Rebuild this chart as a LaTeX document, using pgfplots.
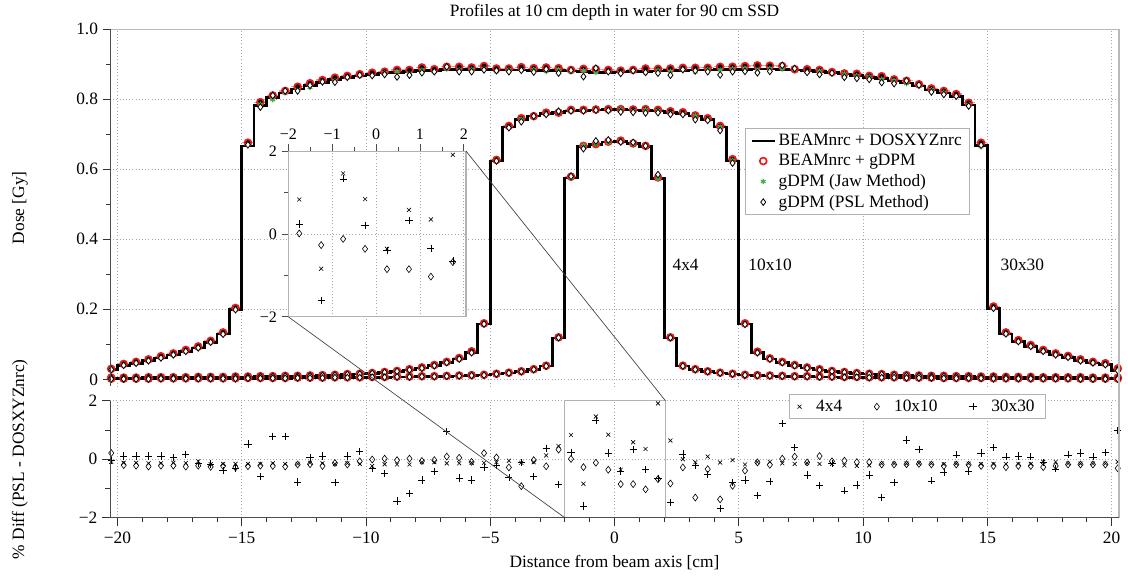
\documentclass[border=0pt]{standalone}
\usepackage{pgfplots}
\pgfplotsset{compat=1.18}
\usepackage{pgfplotstable}
\usepackage{fontspec}
\setmainfont{Liberation Serif}
\definecolor{cred}{RGB}{240,25,25}
\definecolor{cgreen}{RGB}{70,175,80}
\definecolor{cpink}{RGB}{250,150,150}

\pgfplotstableread{
x D C J P
-20.25 0.028 0.030 0.029 0.028
-19.75 0.040 0.044 0.041 0.040
-19.25 0.046 0.050 0.047 0.046
-18.75 0.053 0.057 0.054 0.053
-18.25 0.061 0.066 0.062 0.061
-17.75 0.070 0.074 0.070 0.070
-17.25 0.080 0.084 0.081 0.080
-16.75 0.090 0.094 0.091 0.090
-16.25 0.106 0.110 0.106 0.106
-15.75 0.130 0.134 0.130 0.129
-15.25 0.200 0.204 0.201 0.199
-14.75 0.667 0.676 0.671 0.670
-14.25 0.783 0.792 0.786 0.778
-13.75 0.805 0.811 0.799 0.811
-13.25 0.818 0.824 0.820 0.824
-12.75 0.830 0.836 0.828 0.824
-12.25 0.840 0.846 0.834 0.840
-11.75 0.849 0.855 0.851 0.850
-11.25 0.856 0.862 0.854 0.849
-10.75 0.862 0.867 0.863 0.863
-10.25 0.867 0.872 0.869 0.869
-9.75 0.871 0.876 0.868 0.868
-9.25 0.875 0.879 0.876 0.871
-8.75 0.877 0.884 0.880 0.864
-8.25 0.879 0.884 0.874 0.869
-7.75 0.882 0.891 0.884 0.876
-7.25 0.883 0.886 0.879 0.879
-6.75 0.885 0.893 0.887 0.893
-6.25 0.885 0.893 0.884 0.879
-5.75 0.885 0.891 0.886 0.879
-5.25 0.886 0.895 0.888 0.884
-4.75 0.884 0.888 0.879 0.882
-4.25 0.884 0.888 0.885 0.879
-3.75 0.884 0.892 0.883 0.883
-3.25 0.883 0.889 0.885 0.878
-2.75 0.883 0.891 0.880 0.886
-2.25 0.882 0.889 0.886 0.875
-1.75 0.881 0.884 0.879 0.883
-1.25 0.879 0.887 0.882 0.865
-0.75 0.877 0.886 0.876 0.889
-0.25 0.877 0.884 0.879 0.879
0.25 0.878 0.882 0.877 0.874
0.75 0.879 0.884 0.881 0.882
1.25 0.880 0.888 0.876 0.877
1.75 0.881 0.887 0.883 0.875
2.25 0.882 0.888 0.880 0.869
2.75 0.883 0.890 0.885 0.885
3.25 0.884 0.890 0.878 0.882
3.75 0.884 0.890 0.886 0.879
4.25 0.885 0.893 0.884 0.870
4.75 0.886 0.893 0.887 0.879
5.25 0.886 0.895 0.889 0.880
5.75 0.887 0.897 0.883 0.876
6.25 0.887 0.896 0.888 0.880
6.75 0.886 0.895 0.887 0.897
7.25 0.884 0.886 0.886 0.888
7.75 0.882 0.886 0.877 0.877
8.25 0.879 0.884 0.881 0.871
8.75 0.876 0.878 0.877 0.875
9.25 0.872 0.874 0.873 0.863
9.75 0.868 0.873 0.867 0.860
10.25 0.862 0.867 0.864 0.857
10.75 0.859 0.866 0.857 0.848
11.25 0.852 0.857 0.854 0.845
11.75 0.847 0.853 0.845 0.853
12.25 0.838 0.843 0.839 0.841
12.75 0.827 0.831 0.828 0.821
13.25 0.818 0.824 0.820 0.814
13.75 0.808 0.815 0.809 0.809
14.25 0.784 0.790 0.786 0.781
14.75 0.668 0.676 0.665 0.669
15.25 0.202 0.208 0.203 0.203
15.75 0.130 0.134 0.131 0.130
16.25 0.108 0.112 0.109 0.108
16.75 0.094 0.098 0.095 0.094
17.25 0.080 0.084 0.081 0.080
17.75 0.070 0.074 0.071 0.070
18.25 0.063 0.067 0.063 0.063
18.75 0.053 0.057 0.054 0.053
19.25 0.047 0.050 0.047 0.047
19.75 0.042 0.046 0.042 0.042
20.25 0.025 0.031 0.027 0.025
}\tthirty

\pgfplotstableread{
x D C J P
-20.25 0.004 0.005 0.004 0.004
-19.75 0.004 0.005 0.004 0.004
-19.25 0.004 0.005 0.004 0.004
-18.75 0.005 0.006 0.005 0.005
-18.25 0.005 0.006 0.005 0.005
-17.75 0.005 0.006 0.005 0.005
-17.25 0.005 0.006 0.005 0.005
-16.75 0.006 0.007 0.006 0.006
-16.25 0.006 0.007 0.006 0.006
-15.75 0.006 0.007 0.006 0.006
-15.25 0.007 0.008 0.007 0.007
-14.75 0.007 0.008 0.007 0.007
-14.25 0.008 0.009 0.008 0.008
-13.75 0.008 0.009 0.008 0.008
-13.25 0.009 0.010 0.009 0.009
-12.75 0.009 0.010 0.009 0.009
-12.25 0.010 0.011 0.010 0.010
-11.75 0.011 0.012 0.011 0.011
-11.25 0.012 0.013 0.012 0.012
-10.75 0.014 0.015 0.014 0.014
-10.25 0.015 0.016 0.015 0.015
-9.75 0.017 0.018 0.017 0.017
-9.25 0.020 0.021 0.020 0.020
-8.75 0.023 0.024 0.023 0.023
-8.25 0.027 0.029 0.027 0.027
-7.75 0.032 0.034 0.032 0.032
-7.25 0.039 0.041 0.039 0.039
-6.75 0.048 0.050 0.048 0.048
-6.25 0.058 0.061 0.058 0.058
-5.75 0.076 0.080 0.076 0.076
-5.25 0.158 0.160 0.158 0.158
-4.75 0.624 0.627 0.625 0.624
-4.25 0.721 0.724 0.721 0.719
-3.75 0.743 0.746 0.744 0.736
-3.25 0.752 0.752 0.750 0.752
-2.75 0.759 0.762 0.760 0.757
-2.25 0.763 0.762 0.764 0.766
-1.75 0.767 0.770 0.766 0.767
-1.25 0.769 0.770 0.768 0.767
-0.75 0.770 0.771 0.771 0.769
-0.25 0.771 0.772 0.770 0.768
0.25 0.771 0.772 0.772 0.764
0.75 0.770 0.771 0.768 0.763
1.25 0.769 0.772 0.770 0.761
1.75 0.767 0.770 0.768 0.762
2.25 0.763 0.766 0.761 0.757
2.75 0.759 0.763 0.760 0.757
3.25 0.752 0.754 0.753 0.742
3.75 0.743 0.746 0.744 0.740
4.25 0.721 0.724 0.722 0.711
4.75 0.624 0.629 0.626 0.618
5.25 0.158 0.160 0.158 0.157
5.75 0.076 0.079 0.076 0.076
6.25 0.058 0.060 0.058 0.058
6.75 0.048 0.050 0.048 0.048
7.25 0.039 0.041 0.039 0.039
7.75 0.032 0.034 0.032 0.032
8.25 0.027 0.029 0.027 0.027
8.75 0.023 0.024 0.023 0.023
9.25 0.020 0.021 0.020 0.020
9.75 0.017 0.018 0.017 0.017
10.25 0.015 0.016 0.015 0.015
10.75 0.014 0.015 0.014 0.014
11.25 0.012 0.013 0.012 0.012
11.75 0.011 0.012 0.011 0.011
12.25 0.010 0.011 0.010 0.010
12.75 0.009 0.010 0.009 0.009
13.25 0.009 0.010 0.009 0.009
13.75 0.008 0.009 0.008 0.008
14.25 0.008 0.009 0.008 0.008
14.75 0.007 0.008 0.007 0.007
15.25 0.007 0.008 0.007 0.007
15.75 0.006 0.007 0.006 0.006
16.25 0.006 0.007 0.006 0.006
16.75 0.006 0.007 0.006 0.006
17.25 0.005 0.006 0.005 0.005
17.75 0.005 0.006 0.005 0.005
18.25 0.005 0.006 0.005 0.005
18.75 0.005 0.006 0.005 0.005
19.25 0.004 0.005 0.004 0.004
19.75 0.004 0.005 0.004 0.004
20.25 0.004 0.005 0.004 0.004
}\tten

\pgfplotstableread{
x D C J P
-20.25 0.001 0.002 0.001 0.001
-19.75 0.001 0.002 0.001 0.001
-19.25 0.001 0.002 0.001 0.001
-18.75 0.001 0.002 0.001 0.001
-18.25 0.002 0.003 0.002 0.002
-17.75 0.002 0.003 0.002 0.002
-17.25 0.002 0.003 0.002 0.002
-16.75 0.002 0.003 0.002 0.002
-16.25 0.002 0.003 0.002 0.002
-15.75 0.002 0.003 0.002 0.002
-15.25 0.002 0.003 0.002 0.002
-14.75 0.003 0.004 0.003 0.003
-14.25 0.003 0.004 0.003 0.003
-13.75 0.003 0.004 0.003 0.003
-13.25 0.003 0.004 0.003 0.003
-12.75 0.004 0.005 0.004 0.004
-12.25 0.004 0.005 0.004 0.004
-11.75 0.004 0.005 0.004 0.004
-11.25 0.005 0.006 0.005 0.005
-10.75 0.005 0.006 0.005 0.005
-10.25 0.005 0.006 0.005 0.005
-9.75 0.006 0.007 0.006 0.006
-9.25 0.006 0.007 0.006 0.006
-8.75 0.007 0.008 0.007 0.007
-8.25 0.007 0.008 0.007 0.007
-7.75 0.008 0.009 0.008 0.008
-7.25 0.008 0.009 0.008 0.008
-6.75 0.009 0.010 0.009 0.009
-6.25 0.010 0.011 0.010 0.010
-5.75 0.011 0.012 0.011 0.011
-5.25 0.012 0.013 0.012 0.012
-4.75 0.015 0.016 0.015 0.015
-4.25 0.018 0.019 0.018 0.018
-3.75 0.022 0.023 0.022 0.022
-3.25 0.028 0.029 0.028 0.028
-2.75 0.038 0.039 0.038 0.038
-2.25 0.118 0.120 0.118 0.119
-1.75 0.575 0.579 0.576 0.580
-1.25 0.665 0.667 0.669 0.659
-0.75 0.671 0.672 0.672 0.681
-0.25 0.678 0.679 0.677 0.684
0.25 0.680 0.682 0.681 0.678
0.75 0.673 0.674 0.672 0.677
1.25 0.665 0.667 0.666 0.667
1.75 0.574 0.577 0.574 0.585
2.25 0.118 0.120 0.118 0.119
2.75 0.038 0.039 0.038 0.038
3.25 0.028 0.029 0.028 0.028
3.75 0.022 0.023 0.022 0.022
4.25 0.018 0.019 0.018 0.018
4.75 0.015 0.016 0.015 0.015
5.25 0.012 0.013 0.012 0.012
5.75 0.011 0.012 0.011 0.011
6.25 0.010 0.011 0.010 0.010
6.75 0.009 0.010 0.009 0.009
7.25 0.008 0.009 0.008 0.008
7.75 0.008 0.009 0.008 0.008
8.25 0.007 0.008 0.007 0.007
8.75 0.007 0.008 0.007 0.007
9.25 0.006 0.007 0.006 0.006
9.75 0.006 0.007 0.006 0.006
10.25 0.005 0.006 0.005 0.005
10.75 0.005 0.006 0.005 0.005
11.25 0.005 0.006 0.005 0.005
11.75 0.004 0.005 0.004 0.004
12.25 0.004 0.005 0.004 0.004
12.75 0.004 0.005 0.004 0.004
13.25 0.003 0.004 0.003 0.003
13.75 0.003 0.004 0.003 0.003
14.25 0.003 0.004 0.003 0.003
14.75 0.003 0.004 0.003 0.003
15.25 0.002 0.003 0.002 0.002
15.75 0.002 0.003 0.002 0.002
16.25 0.002 0.003 0.002 0.002
16.75 0.002 0.003 0.002 0.002
17.25 0.002 0.003 0.002 0.002
17.75 0.002 0.003 0.002 0.002
18.25 0.002 0.003 0.002 0.002
18.75 0.001 0.002 0.001 0.001
19.25 0.001 0.002 0.001 0.001
19.75 0.001 0.002 0.001 0.001
20.25 0.001 0.002 0.001 0.001
}\tfour

\pgfplotstableread{
x d4 d10 d30
-20.25 -0.09 0.21 -0.05
-19.75 -0.12 -0.20 0.11
-19.25 -0.12 -0.22 0.11
-18.75 -0.14 -0.25 0.11
-18.25 -0.14 -0.22 0.11
-17.75 -0.12 -0.22 0.06
-17.25 -0.13 -0.25 0.17
-16.75 -0.07 -0.22 -0.14
-16.25 -0.17 -0.26 -0.16
-15.75 -0.16 -0.23 -0.39
-15.25 -0.16 -0.28 -0.32
-14.75 -0.16 -0.24 0.52
-14.25 -0.16 -0.22 -0.59
-13.75 -0.14 -0.23 0.79
-13.25 -0.16 -0.25 0.79
-12.75 -0.16 -0.18 -0.78
-12.25 -0.12 -0.17 0.06
-11.75 -0.14 -0.23 0.11
-11.25 -0.16 -0.13 -0.80
-10.75 -0.14 -0.18 0.11
-10.25 -0.16 -0.07 0.26
-9.75 -0.23 -0.01 -0.32
-9.25 -0.17 0.02 -0.48
-8.75 -0.18 -0.03 -1.43
-8.25 -0.18 0.02 -1.16
-7.75 -0.10 -0.06 -0.71
-7.25 -0.10 -0.03 -0.42
-6.75 -0.14 0.09 0.94
-6.25 -0.14 0.05 -0.64
-5.75 -0.12 -0.09 -0.71
-5.25 -0.12 0.21 -0.28
-4.75 -0.10 0.06 -0.21
-4.25 -0.05 -0.28 -0.62
-3.75 -0.12 -0.92 -0.10
-3.25 -0.10 -0.03 -0.60
-2.75 0.13 -0.24 0.38
-2.25 0.45 0.33 -0.85
-1.75 0.83 0.01 0.24
-1.25 -0.84 -0.27 -1.60
-0.75 1.46 -0.12 1.33
-0.25 0.84 -0.36 0.21
0.25 -0.36 -0.85 -0.40
0.75 0.58 -0.85 0.33
1.25 0.35 -1.03 -0.35
1.75 1.91 -0.68 -0.65
2.25 0.64 -0.83 -1.48
2.75 0.00 -0.28 0.18
3.25 -0.10 -1.31 -0.22
3.75 0.09 -0.34 -0.52
4.25 -0.11 -1.37 -1.68
4.75 -0.03 -0.91 -0.79
5.25 -0.18 -0.39 -0.71
5.75 -0.10 -0.11 -1.23
6.25 -0.09 -0.19 -0.76
6.75 -0.14 0.02 1.23
7.25 -0.16 0.09 0.40
7.75 -0.13 -0.11 -0.54
8.25 -0.16 0.11 -0.90
8.75 -0.16 -0.07 -0.15
9.25 -0.21 -0.05 -1.08
9.75 -0.23 -0.10 -0.88
10.25 -0.21 -0.10 -0.54
10.75 -0.15 -0.18 -1.30
11.25 -0.15 -0.18 -0.79
11.75 -0.15 -0.17 0.66
12.25 -0.14 -0.16 0.34
12.75 -0.15 -0.18 -0.74
13.25 -0.17 -0.23 -0.44
13.75 -0.15 -0.18 0.15
14.25 -0.15 -0.19 -0.42
14.75 -0.16 -0.23 0.21
15.25 -0.16 -0.23 0.40
15.75 -0.16 -0.27 0.08
16.25 -0.16 -0.23 0.11
16.75 -0.16 -0.23 0.08
17.25 -0.09 -0.27 -0.12
17.75 -0.09 -0.23 -0.33
18.25 -0.15 -0.18 0.15
18.75 -0.15 -0.18 0.21
19.25 -0.15 -0.18 0.08
19.75 -0.15 -0.18 0.23
20.25 -0.09 -0.31 0.98
}\tdiff

\newcommand{\fs}{\fontsize{13}{15}\selectfont}
\newcommand{\fsi}{\fontsize{12}{14}\selectfont}

\begin{document}
\begin{tikzpicture}
\useasboundingbox (-82.5pt,22pt) rectangle (763.5pt,-409.3pt);
\pgfplotsset{
  lineS/.style={black, line width=2pt, const plot mark mid, forget plot},
  pinkS/.style={forget plot, only marks, mark=none, error bars/.cd, x dir=both, x fixed=0.25, error mark=none, error bar style={cpink, line width=0.9pt}},
  circS/.style={only marks, mark=o, cred, mark size=2.6pt, line width=1.25pt, forget plot},
  starS/.style={only marks, mark=asterisk, cgreen, mark size=2pt, line width=0.9pt, forget plot},
  diamS/.style={only marks, mark=diamond*, mark size=2.5pt, mark options={fill=white, draw=black, line width=0.6pt}, forget plot},
}
% ---------------- main profile axis
\begin{axis}[name=main, at={(0pt,0pt)}, anchor=north west,
  width=756.75pt, height=267.75pt, scale only axis,
  xmin=-20.3, xmax=20.3, ymin=-0.02, ymax=1.0,
  separate axis lines, x axis line style={draw=none}, y axis line style={draw=none},
  xtick={-20,-15,...,20}, xticklabels={}, major x tick style={draw=none},
  ytick={0,0.2,0.4,0.6,0.8,1.0}, yticklabels={0,0.2,0.4,0.6,0.8,1.0},
  minor ytick={0.1,0.3,0.5,0.7,0.9},
  ytick pos=left, tick align=outside, major tick length=5.5pt, minor tick length=3pt,
  tick style={black!80, line width=0.5pt},
  grid=major, grid style={dotted, gray!70, line width=0.5pt},
  tick label style={font=\fs},
  title={Profiles at 10 cm depth in water for 90 cm SSD},
  title style={at={(axis description cs:0.5,1.048)}, anchor=center, yshift=-6pt, font=\fs},
  ylabel={Dose [Gy]},
  ylabel style={at={(axis description cs:-0.0892,0.5)}, anchor=center, font=\fs},
  legend style={at={(axis description cs:0.629,0.7227)}, anchor=north west, draw=gray!60, line width=0.8pt, fill=white, font=\fs, inner xsep=4pt, inner ysep=2pt, row sep=1pt},
  legend cell align=left,
]
\addlegendimage{black, line width=2pt}
\addlegendentry{BEAMnrc + DOSXYZnrc}
\addlegendimage{only marks, mark=o, cred, mark size=2.6pt, line width=1.25pt}
\addlegendentry{BEAMnrc + gDPM}
\addlegendimage{only marks, mark=asterisk, cgreen, mark size=2pt, line width=0.9pt}
\addlegendentry{gDPM (Jaw Method)}
\addlegendimage{only marks, mark=diamond*, mark size=2.5pt, mark options={fill=white, draw=black, line width=0.6pt}}
\addlegendentry{gDPM (PSL Method)}

\addplot[pinkS] table[x=x, y=C] {\tthirty};
\addplot[pinkS] table[x=x, y=C] {\tten};
\addplot[pinkS] table[x=x, y=C] {\tfour};
\addplot[lineS] table[x=x, y=D] {\tthirty};
\addplot[lineS] table[x=x, y=D] {\tten};
\addplot[lineS] table[x=x, y=D] {\tfour};
\addplot[circS] table[x=x, y=C] {\tthirty};
\addplot[circS] table[x=x, y=C] {\tten};
\addplot[circS] table[x=x, y=C] {\tfour};
\addplot[starS] table[x=x, y=J] {\tthirty};
\addplot[starS] table[x=x, y=J] {\tten};
\addplot[starS] table[x=x, y=J] {\tfour};
\addplot[diamS] table[x=x, y=P] {\tthirty};
\addplot[diamS] table[x=x, y=P] {\tten};
\addplot[diamS] table[x=x, y=P] {\tfour};

\node[anchor=west, font=\fs] at (axis cs:2.15,0.327) {4x4};
\node[anchor=west, font=\fs] at (axis cs:5.2,0.327) {10x10};
\node[anchor=west, font=\fs] at (axis cs:15.35,0.327) {30x30};
\end{axis}

% ---------------- inset
\begin{axis}[name=inset, at={(133.7pt,-91.3pt)}, anchor=north west,
  width=133.3pt, height=124.3pt, scale only axis,
  xmin=-2, xmax=2.05, ymin=-2, ymax=2,
  axis background/.style={fill=white},
  axis line style={gray!60, line width=0.8pt},
  xtick={-2,-1,0,1,2}, xticklabels={−2,−1,0,1,2},
  minor xtick={-1.5,-0.5,0.5,1.5},
  ytick={-2,0,2}, yticklabels={−2,0,2}, minor ytick={-1,1},
  xtick pos=right, xticklabel pos=right, ytick pos=left,
  tick align=outside, major tick length=5pt, minor tick length=3pt,
  tick style={black!70, line width=0.5pt},
  grid=major, grid style={dotted, gray!70, line width=0.5pt},
  tick label style={font=\fsi},
]
\addplot[only marks, mark=x, black, mark size=2.1pt, line width=0.45pt, restrict x to domain=-2:2.05] table[x=x, y=d4] {\tdiff};
\addplot[only marks, mark=diamond, black, mark size=2.6pt, line width=0.45pt, restrict x to domain=-2:2.05] table[x=x, y=d10] {\tdiff};
\addplot[only marks, mark=+, black, mark size=2.7pt, line width=0.45pt, restrict x to domain=-2:2.05] table[x=x, y=d30] {\tdiff};
\coordinate (iNE) at (rel axis cs:1,1);
\coordinate (iSW) at (rel axis cs:0,0);
\end{axis}

% ---------------- difference axis
\begin{axis}[name=diff, at={(0pt,-278.55pt)}, anchor=north west,
  width=756.75pt, height=87.75pt, scale only axis,
  xmin=-20.3, xmax=20.3, ymin=-2, ymax=2,
  separate axis lines, x axis line style={draw=none}, y axis line style={draw=none},
  xtick={-20,-15,...,20}, xticklabels={−20,−15,−10,−5,0,5,10,15,20},
  minor xtick={-19,-18,...,19},
  ytick={-2,0,2}, yticklabels={−2,0,2}, minor ytick={-1,1},
  xtick pos=left, ytick pos=left,
  tick align=outside, major tick length=6pt, minor tick length=3.5pt,
  tick style={black!80, line width=0.5pt},
  grid=major, grid style={dotted, gray!70, line width=0.5pt},
  tick label style={font=\fs},
  xticklabel style={yshift=-1.5pt},
  xlabel={Distance from beam axis [cm]},
  xlabel style={at={(axis description cs:0.5,-0.387)}, anchor=center, font=\fs},
  ylabel={\% Diff (PSL - DOSXYZnrc)},
  ylabel style={at={(axis description cs:-0.0892,0.5)}, anchor=center, font=\fs},
  legend columns=3,
  legend style={at={(axis description cs:0.673,1.057)}, anchor=north west, draw=gray!60, line width=0.8pt, fill=white, font=\fs, inner xsep=6pt, inner ysep=2pt,
    /tikz/every odd column/.append style={column sep=9pt},
    /tikz/every even column/.append style={column sep=22pt}},
]
\addplot[only marks, mark=x, black, mark size=2.1pt, line width=0.45pt] table[x=x, y=d4] {\tdiff};
\addlegendentry{4x4}
\addplot[only marks, mark=diamond, black, mark size=2.6pt, line width=0.45pt] table[x=x, y=d10] {\tdiff};
\addlegendentry{10x10}
\addplot[only marks, mark=+, black, mark size=2.7pt, line width=0.45pt] table[x=x, y=d30] {\tdiff};
\addlegendentry{30x30}
\draw[gray!60, line width=0.9pt] (axis cs:-2,-2) rectangle (axis cs:2.05,2);
\coordinate (bNE) at (axis cs:2.05,2);
\coordinate (bSW) at (axis cs:-2,-2);
\end{axis}

% frame lines
\draw[gray!55, line width=1pt] (main.north west) -- (main.north east) -- (diff.south east);
\draw[black!70, line width=0.6pt] (main.north west) -- (main.south west);
\draw[black!70, line width=0.6pt] (diff.north west) -- (diff.south west) -- (diff.south east);
% connectors
\draw[black!75, line width=0.5pt] (iNE) -- (bNE);
\draw[black!75, line width=0.5pt] (iSW) -- (bSW);
\end{tikzpicture}
\end{document}
